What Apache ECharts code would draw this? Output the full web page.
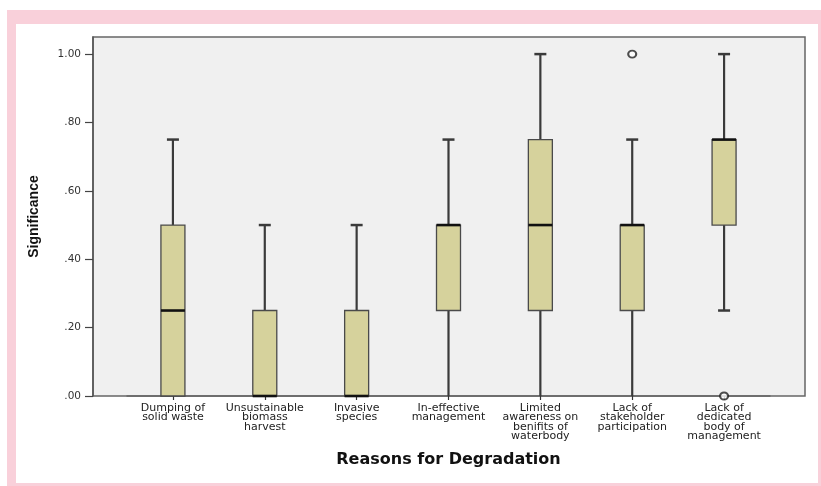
<!DOCTYPE html>
<html>
<head>
<meta charset="utf-8">
<title>Reasons for Degradation</title>
<script src="https://cdn.jsdelivr.net/npm/echarts@6/dist/echarts.min.js"></script>
<style>
  html, body { margin: 0; padding: 0; background: #ffffff; }
  #wrap { position: relative; width: 821px; height: 486px; overflow: hidden; }
  #frame {
    position: absolute; left: 7px; top: 10px;
    width: 802px; height: 459px;
    border-style: solid; border-color: #f9d0da;
    border-width: 14px 3px 3px 9px;
    background: #ffffff;
  }
  #chart { position: absolute; left: 0; top: 0; width: 821px; height: 486px; }
</style>
</head>
<body>
<div id="wrap">
  <div id="frame"></div>
  <div id="chart"></div>
</div>
<script>
// Reasons for degradation and their significance scores (box plot five-number summaries)
const categories = [
  'Dumping of\nsolid waste',
  'Unsustainable\nbiomass\nharvest',
  'Invasive\nspecies',
  'In-effective\nmanagement',
  'Limited\nawareness on\nbenifits of\nwaterbody',
  'Lack of\nstakeholder\nparticipation',
  'Lack of\ndedicated\nbody of\nmanagement'
];
const lowWhisker  = [0,    0,    0,    0,    0,    0,    0.25];
const lowerQuart  = [0,    0,    0,    0.25, 0.25, 0.25, 0.5];
const medians     = [0.25, 0,    0,    0.5,  0.5,  0.5,  0.75];
const upperQuart  = [0.5,  0.25, 0.25, 0.5,  0.75, 0.5,  0.75];
const highWhisker = [0.75, 0.5,  0.5,  0.75, 1.0,  0.75, 1.0];
// Outliers as [category index, value]
const outliers = [[5, 1.0], [6, 0]];
const yTicks = [0, 0.2, 0.4, 0.6, 0.8, 1.0];
const Y_MIN = 0, Y_MAX = 1.05;

const boxData = categories.map((c, i) =>
  [i, lowWhisker[i], lowerQuart[i], medians[i], upperQuart[i], highWhisker[i]]);

const BOX_W = 24, CAP_W = 12;
const BOX_FILL = '#d6d29c', EDGE = '#3a3a3a';

function renderBox(params, api) {
  const i = api.value(0);
  const lo = api.value(1);
  const pMin = api.coord([i, lo]);
  const pQ1 = api.coord([i, api.value(2)]);
  const pMed = api.coord([i, api.value(3)]);
  const pQ3 = api.coord([i, api.value(4)]);
  const pMax = api.coord([i, api.value(5)]);
  const x = pMin[0];
  const kids = [];
  const whisker = { stroke: EDGE, lineWidth: 2.2 };
  const capStyle = { stroke: EDGE, lineWidth: 2.5 };
  if (pMax[1] < pQ3[1]) {
    kids.push({ type: 'line', shape: { x1: x, y1: pMax[1], x2: x, y2: pQ3[1] }, style: whisker });
    kids.push({ type: 'line', shape: { x1: x - CAP_W / 2, y1: pMax[1], x2: x + CAP_W / 2, y2: pMax[1] }, style: capStyle });
  }
  if (pMin[1] > pQ1[1]) {
    kids.push({ type: 'line', shape: { x1: x, y1: pQ1[1], x2: x, y2: pMin[1] }, style: whisker });
    // a cap sitting on the axis line is hidden by it
    if (lo > Y_MIN) {
      kids.push({ type: 'line', shape: { x1: x - CAP_W / 2, y1: pMin[1], x2: x + CAP_W / 2, y2: pMin[1] }, style: capStyle });
    }
  }
  kids.push({
    type: 'rect',
    shape: { x: x - BOX_W / 2, y: pQ3[1], width: BOX_W, height: pQ1[1] - pQ3[1] },
    style: { fill: BOX_FILL, stroke: '#4a4a4a', lineWidth: 1.3 }
  });
  kids.push({
    type: 'line',
    shape: { x1: x - BOX_W / 2, y1: pMed[1], x2: x + BOX_W / 2, y2: pMed[1] },
    style: { stroke: '#111', lineWidth: 2.6 }
  });
  return { type: 'group', children: kids };
}

const chart = echarts.init(document.getElementById('chart'), null, { renderer: 'canvas' });
chart.setOption({
  animation: false,
  backgroundColor: 'transparent',
  textStyle: { fontFamily: 'DejaVu Sans' },
  grid: [
    { // plot frame with value axis
      left: 93, right: 16, top: 37, bottom: 90,
      show: true, backgroundColor: '#f0f0f0', borderColor: '#666', borderWidth: 1.5
    },
    { // category band for the boxes
      left: 127, right: 51, top: 37, bottom: 90
    }
  ],
  xAxis: [
    { gridIndex: 0, type: 'value', show: false, min: 0, max: 1 },
    {
      gridIndex: 1, type: 'category', data: categories,
      axisLine: { show: true, lineStyle: { color: '#666', width: 1.5 } },
      axisTick: { show: true, alignWithLabel: true, length: 4, lineStyle: { color: '#333', width: 1.2 } },
      axisLabel: {
        interval: 0, margin: 7, fontSize: 11, lineHeight: 9.6,
        color: '#222', fontFamily: 'DejaVu Sans'
      },
      name: 'Reasons for Degradation', nameLocation: 'middle', nameGap: 56,
      nameTextStyle: { fontSize: 16, fontWeight: 'bold', color: '#111', fontFamily: 'DejaVu Sans' }
    }
  ],
  yAxis: [
    {
      gridIndex: 0, type: 'value', min: Y_MIN, max: Y_MAX,
      axisLine: { show: true, lineStyle: { color: '#555', width: 1.5 } },
      axisTick: { show: true, length: 8, customValues: yTicks, lineStyle: { color: '#444', width: 1.2 } },
      axisLabel: {
        customValues: yTicks, margin: 12, fontSize: 10.5, color: '#333',
        formatter: v => v.toFixed(2).replace(/^0/, '')
      },
      splitLine: { show: false },
      name: 'Significance', nameLocation: 'middle', nameRotate: 90, nameGap: 52,
      nameTextStyle: { fontSize: 14, fontWeight: 'bold', color: '#111', fontFamily: 'Liberation Sans' }
    },
    { gridIndex: 1, type: 'value', min: Y_MIN, max: Y_MAX, show: false, splitLine: { show: false } }
  ],
  series: [
    {
      type: 'custom', xAxisIndex: 1, yAxisIndex: 1,
      renderItem: renderBox,
      encode: { x: 0, y: [1, 2, 3, 4, 5] },
      data: boxData, clip: false, z: 3
    },
    {
      type: 'scatter', xAxisIndex: 1, yAxisIndex: 1,
      data: outliers, symbol: 'emptyCircle', symbolSize: [8, 7],
      itemStyle: { color: '#222', borderColor: '#222', borderWidth: 1.6 },
      clip: false, z: 4
    }
  ]
});
</script>
</body>
</html>
